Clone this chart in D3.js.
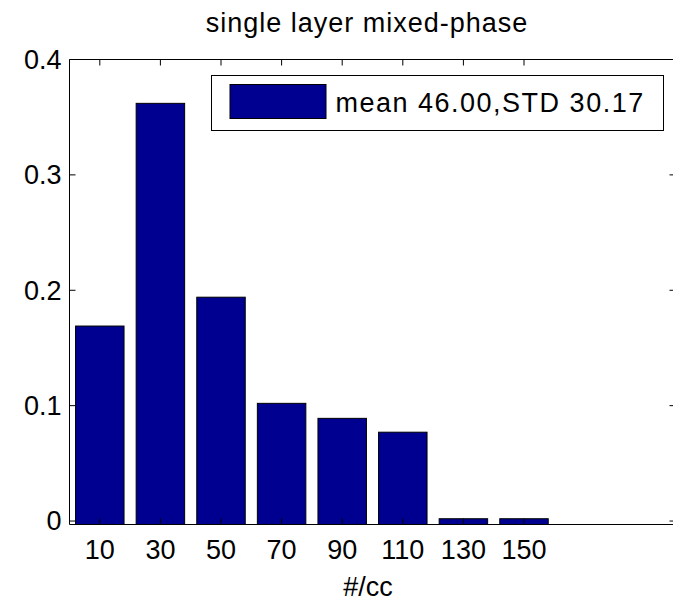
<!DOCTYPE html>
<html>
<head>
<meta charset="utf-8">
<script src="https://cdn.jsdelivr.net/npm/d3@7"></script>
<style>
  html, body { margin: 0; padding: 0; background: #fff; overflow: hidden; }
  svg { display: block; }
  text { font-family: "Liberation Sans", Arial, sans-serif; fill: #000; }
</style>
</head>
<body>
<div id="chart"></div>
<script>
// histogram of number concentration (#/cc)
const binCenters = [10, 30, 50, 70, 90, 110, 130, 150];
const fractions = [0.169, 0.362, 0.194, 0.102, 0.089, 0.077, 0.002, 0.002];
const yTicks = [0, 0.1, 0.2, 0.3, 0.4];
const titleText = "single layer mixed-phase";
const xLabel = "#/cc";
const legendLabel = "mean 46.00,STD 30.17";

const width = 673, height = 604;
const margin = { top: 59.5, right: -2.5, bottom: 79.5, left: 69.5 };
const innerWidth = width - margin.left - margin.right;
const innerHeight = height - margin.top - margin.bottom;
const barColor = "#000090";
const fontSize = 27;

const svg = d3.select("#chart").append("svg")
    .attr("width", width)
    .attr("height", height)
    .style("overflow", "hidden");

const g = svg.append("g")
    .attr("transform", `translate(${margin.left},${margin.top})`);

const x = d3.scaleLinear().domain([0, 200]).range([0, innerWidth]);
const y = d3.scaleLinear().domain([-0.003, 0.4]).range([innerHeight, 0]);
const barW = x(16) - x(0);

// bars
g.selectAll(".bar")
    .data(binCenters)
    .enter()
    .append("rect")
    .attr("class", "bar")
    .attr("x", d => x(d) - barW / 2)
    .attr("width", barW)
    .attr("y", (d, i) => y(fractions[i]))
    .attr("height", (d, i) => y.range()[0] - y(fractions[i]))
    .attr("fill", barColor)
    .attr("stroke", "#000")
    .attr("stroke-width", 1);

// ticks on all four sides, pointing inward
const tickLen = 6;
const ticks = g.append("g").attr("stroke", "#000").attr("stroke-width", 1);
binCenters.forEach(v => {
    ticks.append("line").attr("x1", x(v)).attr("x2", x(v)).attr("y1", innerHeight).attr("y2", innerHeight - tickLen);
    ticks.append("line").attr("x1", x(v)).attr("x2", x(v)).attr("y1", 0).attr("y2", tickLen);
});
yTicks.forEach(v => {
    ticks.append("line").attr("x1", 0).attr("x2", tickLen).attr("y1", y(v)).attr("y2", y(v));
    ticks.append("line").attr("x1", innerWidth).attr("x2", innerWidth - tickLen).attr("y1", y(v)).attr("y2", y(v));
});

// axis frame: left, top, bottom (right edge falls outside the window)
const frame = g.append("g").attr("stroke", "#000").attr("stroke-width", 1);
frame.append("line").attr("x1", 0).attr("x2", 0).attr("y1", 0).attr("y2", innerHeight);
frame.append("line").attr("x1", 0).attr("x2", innerWidth).attr("y1", 0).attr("y2", 0);
frame.append("line").attr("x1", 0).attr("x2", innerWidth).attr("y1", innerHeight).attr("y2", innerHeight);

// tick labels
g.selectAll(".xlab")
    .data(binCenters)
    .enter()
    .append("text")
    .attr("class", "xlab")
    .attr("x", d => x(d))
    .attr("y", innerHeight + 34)
    .attr("text-anchor", "middle")
    .style("font-size", fontSize + "px")
    .text(d => d);

g.selectAll(".ylab")
    .data(yTicks)
    .enter()
    .append("text")
    .attr("class", "ylab")
    .attr("x", -8)
    .attr("y", d => y(d))
    .attr("dy", "0.35em")
    .attr("text-anchor", "end")
    .style("font-size", fontSize + "px")
    .text(d => d3.format("~g")(d));

// title and axis label
svg.append("text")
    .attr("x", 367)
    .attr("y", 32)
    .attr("text-anchor", "middle")
    .style("font-size", fontSize + "px")
    .style("letter-spacing", "1px")
    .text(titleText);

svg.append("text")
    .attr("x", 368)
    .attr("y", 596)
    .attr("text-anchor", "middle")
    .style("font-size", fontSize + "px")
    .text(xLabel);

// legend
const legend = svg.append("g").attr("transform", "translate(211.5,75.5)");
legend.append("rect")
    .attr("width", 452)
    .attr("height", 55)
    .attr("fill", "#fff")
    .attr("stroke", "#000")
    .attr("stroke-width", 1);
legend.append("rect")
    .attr("x", 18.5)
    .attr("y", 9)
    .attr("width", 96)
    .attr("height", 34)
    .attr("fill", barColor)
    .attr("stroke", "#000")
    .attr("stroke-width", 1);
legend.append("text")
    .attr("x", 124)
    .attr("y", 36)
    .style("font-size", fontSize + "px")
    .style("letter-spacing", "1.5px")
    .text(legendLabel);
</script>
</body>
</html>
